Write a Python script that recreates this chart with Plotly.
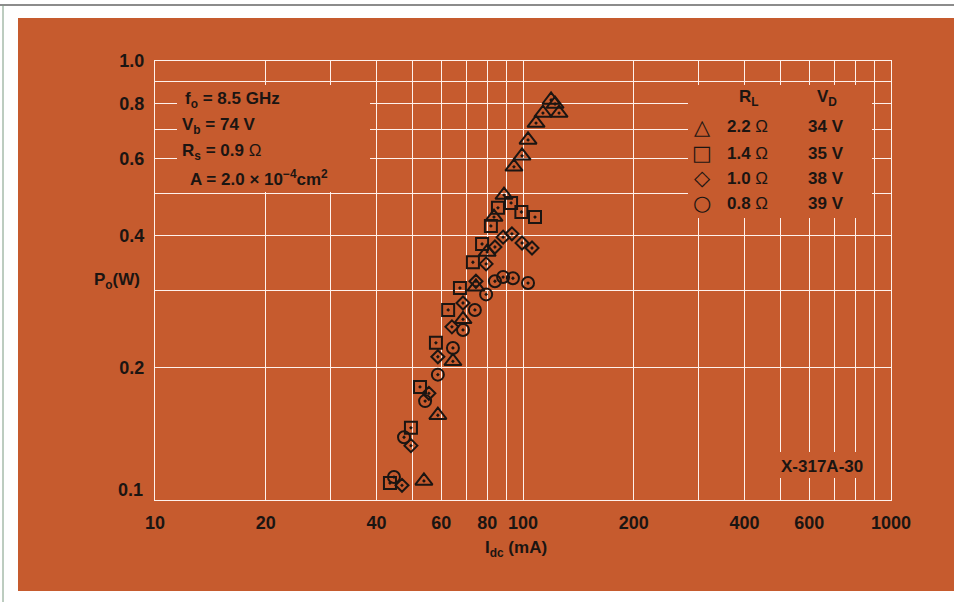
import plotly.graph_objects as go

# ---------------- data ----------------
# R_L = 2.2 ohm (triangles)
tri_x = [53.8, 58.7, 64.5, 68.7, 74.5, 79.9, 83.4, 88.8, 94.5, 99.4, 103.2, 108.5, 113.3, 125.3, 119.2, 122.2]
tri_y = [0.1105, 0.156, 0.207, 0.258, 0.306, 0.367, 0.441, 0.495, 0.574, 0.608, 0.661, 0.722, 0.761, 0.761, 0.815, 0.798]
# R_L = 1.4 ohm (squares)
sq_x = [43.5, 49.6, 52.5, 58.0, 62.6, 67.4, 73.1, 77.4, 81.8, 85.5, 92.8, 99.0, 107.8]
sq_y = [0.1093, 0.146, 0.181, 0.228, 0.271, 0.304, 0.348, 0.383, 0.421, 0.463, 0.475, 0.453, 0.441]
# R_L = 1.0 ohm (diamonds)
dia_x = [46.9, 49.6, 55.5, 58.7, 64.1, 68.7, 74.5, 79.4, 83.9, 88.3, 93.3, 99.4, 105.8]
dia_y = [0.108, 0.133, 0.175, 0.212, 0.248, 0.281, 0.315, 0.345, 0.377, 0.397, 0.404, 0.385, 0.375]
# R_L = 0.8 ohm (circles)
cir_x = [44.6, 47.5, 54.2, 58.7, 64.5, 68.7, 74.0, 79.4, 83.9, 88.3, 93.9, 103.2]
cir_y = [0.1128, 0.139, 0.168, 0.193, 0.222, 0.244, 0.271, 0.294, 0.315, 0.322, 0.320, 0.312]

x_grid = [10, 20, 30, 40, 50, 60, 70, 80, 90, 100, 200, 300, 400, 500, 600, 700, 800, 900, 1000]
x_labels = ["10", "20", "", "40", "", "60", "", "80", "", "100", "200", "", "400", "", "600", "", "", "", "1000"]
y_grid = [0.1, 0.2, 0.3, 0.4, 0.5, 0.6, 0.7, 0.8, 0.9, 1.0]
y_labels = ["", "0.2", "", "0.4", "", "0.6", "", "0.8", "", "1.0"]

legend_symbols = ["\u25B3", "\u25A1", "\u25C7", "\u25CB"]
legend_RL = ["2.2", "1.4", "1.0", "0.8"]
legend_VD = ["34 V", "35 V", "38 V", "39 V"]

params = ["f<sub>o</sub> = 8.5 GHz", "V<sub>b</sub> = 74 V",
          "R<sub>s</sub> = 0.9 <span style='font-weight:normal'>\u03A9</span>",
          "A = 2.0 \u00D7 10<sup>\u22124</sup>cm<sup>2</sup>"]

# ---------------- styling ----------------
ORANGE = "#C65B2E"
GRID = "#FFF1EC"
INK = "#1B1512"
FONT = "Liberation Sans"

W, H = 954, 602
L, R, T, B = 155, 891, 61, 500


def px(x):
    return (x - L) / (R - L)


def py(y):
    return (B - y) / (B - T)


fig = go.Figure()

series = [
    (tri_x, tri_y, "triangle-up-open-dot", 15),
    (sq_x, sq_y, "square-open-dot", 12),
    (dia_x, dia_y, "diamond-open-dot", 10),
    (cir_x, cir_y, "circle-open-dot", 12),
]
for xs, ys, sym, sz in series:
    fig.add_trace(go.Scatter(
        x=xs, y=ys, mode="markers",
        marker=dict(symbol=sym, size=sz, color=INK, line=dict(width=2, color=INK)),
        showlegend=False, hoverinfo="skip"))

fig.update_xaxes(
    type="log", range=[1, 3], tickmode="array", tickvals=x_grid, ticktext=x_labels,
    showgrid=True, gridcolor=GRID, gridwidth=1.4, zeroline=False,
    showline=True, mirror=True, linecolor=GRID, linewidth=1.4,
    ticks="outside", ticklen=6, tickcolor="rgba(0,0,0,0)",
    tickfont=dict(family=FONT, size=18, color=INK, weight="bold"))
fig.update_yaxes(
    type="log", range=[-1, 0], tickmode="array", tickvals=y_grid, ticktext=y_labels,
    showgrid=True, gridcolor=GRID, gridwidth=1.4, zeroline=False,
    showline=True, mirror=True, linecolor=GRID, linewidth=1.4,
    ticks="outside", ticklen=6, tickcolor="rgba(0,0,0,0)",
    tickfont=dict(family=FONT, size=18, color=INK, weight="bold"))

shapes = [
    # orange card
    dict(type="rect", xref="paper", yref="paper", x0=px(18), x1=px(960), y0=py(591), y1=py(18),
         fillcolor=ORANGE, line=dict(width=0), layer="below"),
    # thin outer frame lines
    dict(type="line", xref="paper", yref="paper", x0=px(0), x1=px(954), y0=py(5), y1=py(5),
         line=dict(color="#666666", width=1.5)),
    dict(type="line", xref="paper", yref="paper", x0=px(3), x1=px(3), y0=py(5), y1=py(602),
         line=dict(color="#7a9a80", width=1)),
    # masks behind the text blocks
    dict(type="rect", xref="paper", yref="paper", x0=px(177), x1=px(370), y0=py(192), y1=py(85),
         fillcolor=ORANGE, line=dict(width=0), layer="above"),
    dict(type="rect", xref="paper", yref="paper", x0=px(688), x1=px(872), y0=py(218), y1=py(85),
         fillcolor=ORANGE, line=dict(width=0), layer="above"),
    dict(type="rect", xref="paper", yref="paper", x0=px(765), x1=px(869), y0=py(478), y1=py(452),
         fillcolor=ORANGE, line=dict(width=0), layer="above"),
]

ann = []


def text(s, x, y, size=17, anchor="left", weight="bold", family=FONT):
    ann.append(dict(text=s, x=px(x), y=py(y), xref="paper", yref="paper",
                    xanchor=anchor, yanchor="middle", showarrow=False,
                    font=dict(family=family, size=size, color=INK, weight=weight)))


# parameter block
for s, (x, y) in zip(params, [(183, 100), (180, 126), (180, 152), (188, 178)]):
    text(s, x, y)

# legend block
text("R<sub>L</sub>", 749, 98, anchor="center")
text("V<sub>D</sub>", 827, 98, anchor="center")
rows_y = [127, 153, 178, 203]
for sym, rl, vd, yy in zip(legend_symbols, legend_RL, legend_VD, rows_y):
    text(sym, 702, yy, size=21, anchor="center", weight="normal", family="DejaVu Sans")
    text(rl + " <span style='font-weight:normal'>\u03A9</span>", 725, yy)
    text(vd, 846, yy, anchor="right")

text("X-317A-30", 822, 466, size=17, anchor="center")
text("0.1", 145, 490, size=18, anchor="right")
text("P<sub>o</sub>(W)", 117, 281, anchor="center")
text("I<sub>dc</sub> (mA)", 516, 549, anchor="center")

fig.update_layout(
    width=W, height=H,
    margin=dict(l=L, r=W - R, t=T, b=H - B, pad=0),
    paper_bgcolor="white", plot_bgcolor=ORANGE,
    shapes=shapes, annotations=ann, showlegend=False,
    font=dict(family=FONT, color=INK),
)

fig.write_html("out.html", config={"displayModeBar": False},
               post_script="document.body.style.margin='0px';document.body.style.overflow='hidden';")
